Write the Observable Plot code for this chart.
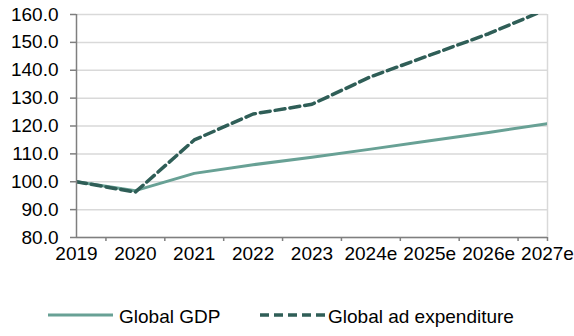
<!DOCTYPE html>
<html>
<head>
<meta charset="utf-8">
<script src="https://cdn.jsdelivr.net/npm/d3@7"></script>
<script src="https://cdn.jsdelivr.net/npm/@observablehq/plot@0.6"></script>
<style>
  html, body { margin: 0; padding: 0; background: #fff; }
  #wrap { position: relative; width: 574px; height: 336px; font-family: "Liberation Sans", Arial, sans-serif; }
  #chart svg { display: block; overflow: visible; }
  .leg { position: absolute; font-size: 19px; color: #000; line-height: 1; white-space: nowrap; }
</style>
</head>
<body>
<div id="wrap">
  <div id="chart"></div>
  <div id="legend"></div>
</div>
<script>
// ---- data ----
const years = ["2019", "2020", "2021", "2022", "2023", "2024e", "2025e", "2026e", "2027e"];
const globalGdp = [100.0, 96.8, 103.0, 106.1, 108.8, 111.7, 114.7, 117.7, 120.8];
const globalAdExpenditure = [100.0, 96.3, 115.0, 124.3, 127.8, 137.7, 145.4, 153.1, 162.0];
const yTicks = [80, 90, 100, 110, 120, 130, 140, 150, 160];
const seriesNames = ["Global GDP", "Global ad expenditure"];

const gdpColor = "#68a195";
const adColor = "#2f5e57";
const axisColor = "#7f7f7f";
const gridColor = "#d9d9d9";

const idx = years.map((_, i) => i);
const tickBetween = idx.slice(0, -1).map(i => i + 0.5).concat([years.length - 1]);

const chart = Plot.plot({
  width: 574,
  height: 270,
  marginLeft: 76,
  marginRight: 27,
  marginTop: 14,
  marginBottom: 33,
  style: { fontFamily: "'Liberation Sans', Arial, sans-serif", fontSize: "19px", color: "#000", background: "#fff" },
  x: { domain: [0, years.length - 1] },
  y: { domain: [80, 160] },
  marks: [
    Plot.gridY(yTicks, { stroke: gridColor, strokeOpacity: 1, strokeWidth: 1.5 }),
    Plot.ruleX([years.length - 1], { stroke: gridColor, strokeWidth: 1.5 }),
    Plot.lineY(globalGdp, { x: (d, i) => i, y: d => d, stroke: gdpColor, strokeWidth: 3, clip: true }),
    Plot.lineY(globalAdExpenditure, { x: (d, i) => i, y: d => d, stroke: adColor, strokeWidth: 3.5, strokeDasharray: "10,5", clip: true }),
    Plot.ruleY([80], { stroke: axisColor, strokeWidth: 1.5 }),
    Plot.ruleX([0], { stroke: axisColor, strokeWidth: 1.5 }),
    Plot.axisY(yTicks, { tickSize: 6, tickPadding: 12, tickFormat: d => d.toFixed(1), stroke: axisColor, strokeWidth: 1.5, fontSize: 19, label: null }),
    Plot.axisX(tickBetween, { tickSize: 4, tickFormat: () => "", stroke: axisColor, strokeWidth: 1.5, label: null }),
    Plot.axisX(idx, { tickSize: 0, tickPadding: 9, tickFormat: i => years[i], fontSize: 19, label: null })
  ]
});
document.getElementById("chart").appendChild(chart);

// ---- legend ----
const legend = document.getElementById("legend");
const items = [
  { name: seriesNames[0], color: gdpColor, dash: null, x0: 48, x1: 113, tx: 119 },
  { name: seriesNames[1], color: adColor, dash: "9,5", x0: 260, x1: 325, tx: 328 }
];
items.forEach(it => {
  const sw = document.createElementNS("http://www.w3.org/2000/svg", "svg");
  sw.setAttribute("width", it.x1 - it.x0);
  sw.setAttribute("height", 8);
  sw.style.position = "absolute";
  sw.style.left = it.x0 + "px";
  sw.style.top = "311px";
  const ln = document.createElementNS("http://www.w3.org/2000/svg", "line");
  ln.setAttribute("x1", 0); ln.setAttribute("x2", it.x1 - it.x0);
  ln.setAttribute("y1", 4); ln.setAttribute("y2", 4);
  ln.setAttribute("stroke", it.color);
  ln.setAttribute("stroke-width", it.dash ? 3.5 : 3);
  if (it.dash) ln.setAttribute("stroke-dasharray", it.dash);
  sw.appendChild(ln);
  legend.appendChild(sw);
  const t = document.createElement("div");
  t.className = "leg";
  t.textContent = it.name;
  t.style.left = it.tx + "px";
  t.style.top = "307px";
  legend.appendChild(t);
});
</script>
</body>
</html>
